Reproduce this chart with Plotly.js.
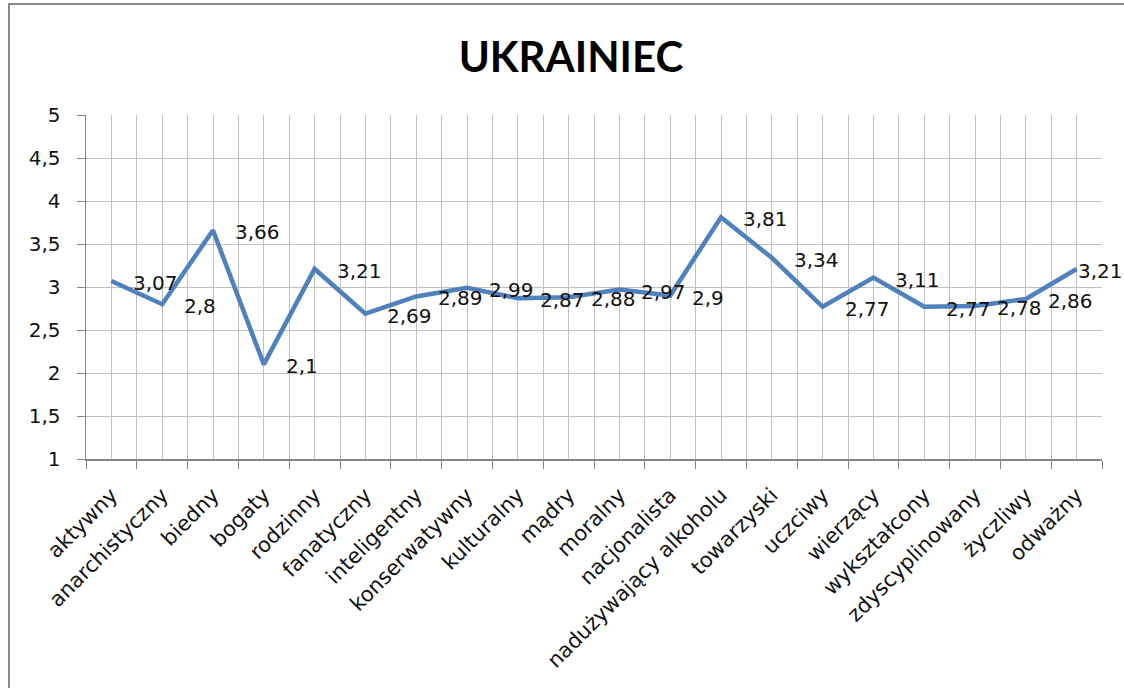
<!DOCTYPE html>
<html>
<head>
<meta charset="utf-8">
<script src="https://cdn.plot.ly/plotly-3.0.1.min.js"></script>
<style>
  html, body { margin: 0; padding: 0; background: #fff; }
  #chart { position: absolute; left: 0; top: 0; width: 1124px; height: 688px; }
  #frame { position: absolute; left: 8px; top: 3px; right: -10px; bottom: -10px;
           border-left: 2px solid #8a8a8a; border-top: 2px solid #8a8a8a; pointer-events: none; }
</style>
</head>
<body>
<div id="chart"></div>
<div id="frame"></div>
<script>
const categories = ["aktywny", "anarchistyczny", "biedny", "bogaty", "rodzinny", "fanatyczny",
  "inteligentny", "konserwatywny", "kulturalny", "mądry", "moralny", "nacjonalista",
  "nadużywający alkoholu", "towarzyski", "uczciwy", "wierzący", "wykształcony",
  "zdyscyplinowany", "życzliwy", "odważny"];
const values = [3.07, 2.8, 3.66, 2.1, 3.21, 2.69, 2.89, 2.99, 2.87, 2.88, 2.97, 2.9,
  3.81, 3.34, 2.77, 3.11, 2.77, 2.78, 2.86, 3.21];
const chartTitle = "UKRAINIEC";

const labelText = values.map(v => String(v).replace('.', ','));
const gridColor = '#c0c0c0';
const axisColor = '#868686';
const txtFont = "'DejaVu Sans', 'Open Sans', sans-serif";
const last = values.length - 1;

const traces = [
  {
    x: categories, y: values, type: 'scatter', mode: 'lines',
    line: { color: '#4f81bd', width: 4.5 },
    hoverinfo: 'x+y', showlegend: false
  },
  {
    x: categories, y: values, type: 'scatter', mode: 'lines', xaxis: 'x2',
    line: { color: 'rgba(0,0,0,0)', width: 0 }, hoverinfo: 'skip', showlegend: false
  }
];

const annotations = values.map((v, i) => ({
  x: categories[i], y: v, xref: 'x', yref: 'y',
  text: labelText[i], showarrow: false,
  xanchor: 'left', yanchor: 'middle',
  xshift: i === last ? -1 : 20, yshift: -2,
  font: { family: txtFont, size: 20, color: '#111' }
}));

const layout = {
  width: 1124, height: 688,
  margin: { l: 86, r: 22, t: 115, b: 229 },
  paper_bgcolor: 'rgba(0,0,0,0)', plot_bgcolor: '#fff',
  separators: ', ',
  showlegend: false,
  annotations: annotations,
  title: {
    text: chartTitle, xref: 'container', yref: 'container',
    x: 0.508, xanchor: 'center', y: 1 - 57 / 688, yanchor: 'middle',
    font: { family: "Lato, 'Open Sans', sans-serif", size: 42, color: '#000', weight: 'bold' }
  },
  xaxis: {
    type: 'category', categoryorder: 'array', categoryarray: categories,
    range: [-0.5, categories.length - 0.5],
    tickson: 'boundaries', ticks: 'outside', ticklen: 8, tickcolor: axisColor, tickwidth: 1,
    showgrid: true, gridcolor: gridColor, gridwidth: 1,
    showline: true, linecolor: axisColor, linewidth: 1.5,
    tickangle: -45, tickfont: { family: txtFont, size: 21, color: '#111' },
    ticklabelstandoff: 14,
    zeroline: false, fixedrange: true
  },
  xaxis2: {
    type: 'category', overlaying: 'x', categoryorder: 'array', categoryarray: categories,
    range: [-0.5, categories.length - 0.5],
    showgrid: true, gridcolor: gridColor, gridwidth: 1,
    showticklabels: false, ticks: '', showline: false, zeroline: false, fixedrange: true
  },
  yaxis: {
    range: [1, 5], dtick: 0.5, tick0: 1,
    ticks: 'outside', ticklen: 8, tickcolor: axisColor, tickwidth: 1,
    showgrid: true, gridcolor: gridColor, gridwidth: 1,
    showline: true, linecolor: axisColor, linewidth: 1.5,
    tickfont: { family: txtFont, size: 20, color: '#111' },
    ticklabelstandoff: 12,
    zeroline: false, fixedrange: true
  }
};

Plotly.newPlot('chart', traces, layout, { displayModeBar: false, staticPlot: true });
</script>
</body>
</html>
